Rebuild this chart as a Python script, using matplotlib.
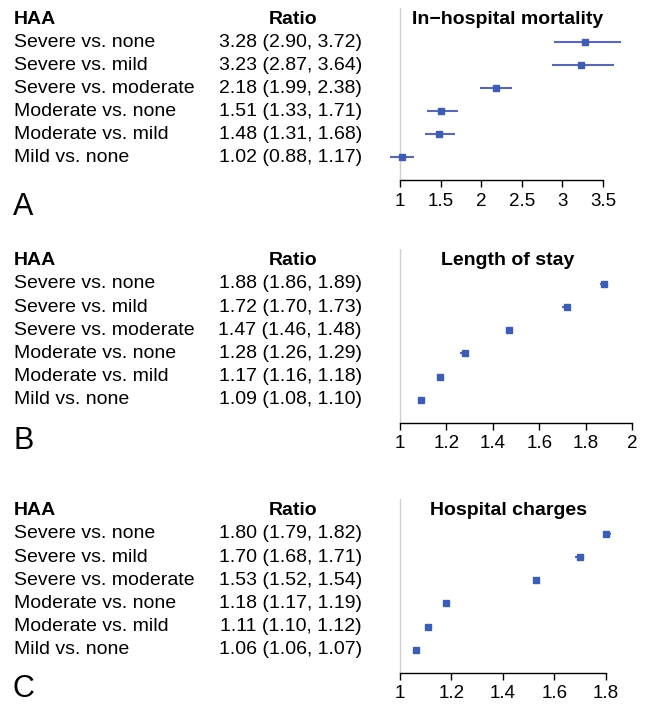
import matplotlib.pyplot as plt
import matplotlib.transforms as mtransforms

plt.rcParams['font.family'] = ['Liberation Sans', 'DejaVu Sans']

# comparisons (top to bottom)
labels = ["Severe vs. none", "Severe vs. mild", "Severe vs. moderate",
          "Moderate vs. none", "Moderate vs. mild", "Mild vs. none"]

mort_est = [3.28, 3.23, 2.18, 1.51, 1.48, 1.02]
mort_lo = [2.90, 2.87, 1.99, 1.33, 1.31, 0.88]
mort_hi = [3.72, 3.64, 2.38, 1.71, 1.68, 1.17]

stay_est = [1.88, 1.72, 1.47, 1.28, 1.17, 1.09]
stay_lo = [1.86, 1.70, 1.46, 1.26, 1.16, 1.08]
stay_hi = [1.89, 1.73, 1.48, 1.29, 1.18, 1.10]

chg_est = [1.80, 1.70, 1.53, 1.18, 1.11, 1.06]
chg_lo = [1.79, 1.68, 1.52, 1.17, 1.10, 1.06]
chg_hi = [1.82, 1.71, 1.54, 1.19, 1.12, 1.07]

titles = ["In\u2212hospital mortality", "Length of stay", "Hospital charges"]
ticks = [[1, 1.5, 2, 2.5, 3, 3.5], [1, 1.2, 1.4, 1.6, 1.8, 2], [1, 1.2, 1.4, 1.6, 1.8]]
tick_labels = [["1", "1.5", "2", "2.5", "3", "3.5"],
               ["1", "1.2", "1.4", "1.6", "1.8", "2"],
               ["1", "1.2", "1.4", "1.6", "1.8"]]
letters = ["A", "B", "C"]

W, H = 648, 709
fig = plt.figure(figsize=(W / 100, H / 100), dpi=100)

# layout in pixels: (left, right, top, bottom), xlim, letter y
panels = [
    ((388, 625, 8, 180), (0.852, 3.771), 207),
    ((388, 640, 249, 423), (0.948, 2.034), 441),
    ((388, 625, 499, 673), (0.953, 1.875), 689),
]
series = [(mort_est, mort_lo, mort_hi), (stay_est, stay_lo, stay_hi), (chg_est, chg_lo, chg_hi)]
msizes = [5.0, 4.4, 4.4]

line_c = '#5b69a9'
box_c = '#3d5cb3'
fs = 14

for i, ((x0, x1, y0, y1), xl, ly) in enumerate(panels):
    ax = fig.add_axes([x0 / W, 1 - y1 / H, (x1 - x0) / W, (y1 - y0) / H])
    est, lo, hi = series[i]
    ys = list(range(6, 0, -1))
    err = [[e - l for e, l in zip(est, lo)], [h - e for e, h in zip(est, hi)]]
    ax.axvline(1, color='#cfcfcf', lw=1, zorder=0)
    ax.errorbar(est, ys, xerr=err, fmt='s', color=box_c, ecolor=line_c,
                elinewidth=1.5, capsize=0, markersize=msizes[i], zorder=3)
    ax.set_xlim(*xl)
    ax.set_ylim(0, 7.5)
    for s in ['left', 'top', 'right']:
        ax.spines[s].set_visible(False)
    ax.spines['bottom'].set_bounds(ticks[i][0], ticks[i][-1])
    ax.spines['bottom'].set_linewidth(1)
    ax.set_yticks([])
    ax.set_xticks(ticks[i])
    ax.set_xticklabels(tick_labels[i])
    ax.tick_params(axis='x', length=5, width=1, labelsize=13.5, pad=4)
    ax.patch.set_visible(False)

    tr = mtransforms.blended_transform_factory(fig.transFigure, ax.transData)
    ax.text(508 / W, 7, titles[i], transform=tr, ha='center', va='center',
            fontsize=fs, fontweight='bold', clip_on=False)
    ax.text(14 / W, 7, "HAA", transform=tr, ha='left', va='center',
            fontsize=fs, fontweight='bold', clip_on=False)
    ax.text(293 / W, 7, "Ratio", transform=tr, ha='center', va='center',
            fontsize=fs, fontweight='bold', clip_on=False)
    for y, lab, e, l, h in zip(ys, labels, est, lo, hi):
        ax.text(14 / W, y, lab, transform=tr, ha='left', va='center',
                fontsize=fs, clip_on=False)
        ax.text(362 / W, y, f"{e:.2f} ({l:.2f}, {h:.2f})", transform=tr,
                ha='right', va='center', fontsize=fs, clip_on=False)
    fig.text(13 / W, 1 - ly / H, letters[i], ha='left', va='center', fontsize=22)

fig.savefig('out.png', dpi=100)
